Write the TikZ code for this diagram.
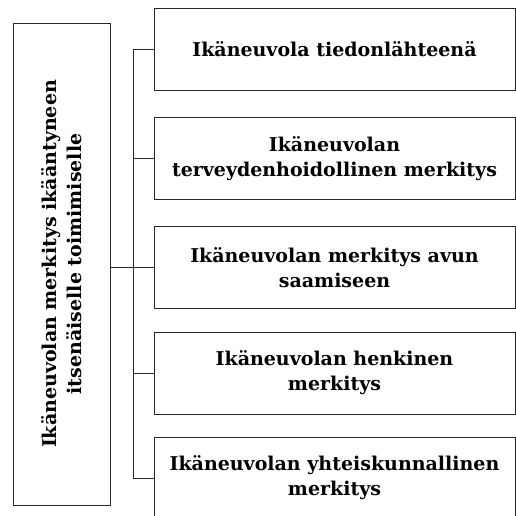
\documentclass[tikz,border=0pt]{standalone}
\usepackage{fontspec}
\setmainfont{DejaVu Serif}
\begin{document}
\begin{tikzpicture}[x=1pt, y=1pt,
    kehys/.style={draw=black!85, line width=0.9pt},
    aihe/.style={kehys, minimum width=361pt, minimum height=82pt, inner sep=0pt,
        align=center, font=\bfseries\fontsize{19}{25}\selectfont},
    paaotsikko/.style={kehys, rotate=90, minimum width=482pt, minimum height=97pt,
        inner sep=0pt, align=center, font=\bfseries\fontsize{19}{25}\selectfont},
    yhteys/.style={black!85, line width=0.8pt}]
    \clip (0,0) rectangle (516,515);

    % Left: main theme
    \node[paaotsikko] (paa) at (61.5,251) {Ikäneuvolan merkitys ikääntyneen\\itsenäiselle toimimiselle};

    % Right: sub themes
    \node[aihe] (k1) at (334.5,466) {Ikäneuvola tiedonlähteenä};
    \node[aihe] (k2) at (334.5,356.5) {Ikäneuvolan\\terveydenhoidollinen merkitys};
    \node[aihe] (k3) at (334.5,247.5) {Ikäneuvolan merkitys avun\\saamiseen};
    \node[aihe] (k4) at (334.5,142) {Ikäneuvolan henkinen\\merkitys};
    \node[aihe] (k5) at (334.5,37) {Ikäneuvolan yhteiskunnallinen\\merkitys};

    % Connectors
    \coordinate (runko) at (133,0);
    \draw[yhteys] (k1.west -| runko) -- (k5.west -| runko);
    \foreach \k in {k1,k2,k4,k5} {
        \draw[yhteys] (\k.west) -- (\k.west -| runko);
    }
    \draw[yhteys] (k3.west) -- (k3.west -| paa.south);
\end{tikzpicture}
\end{document}
